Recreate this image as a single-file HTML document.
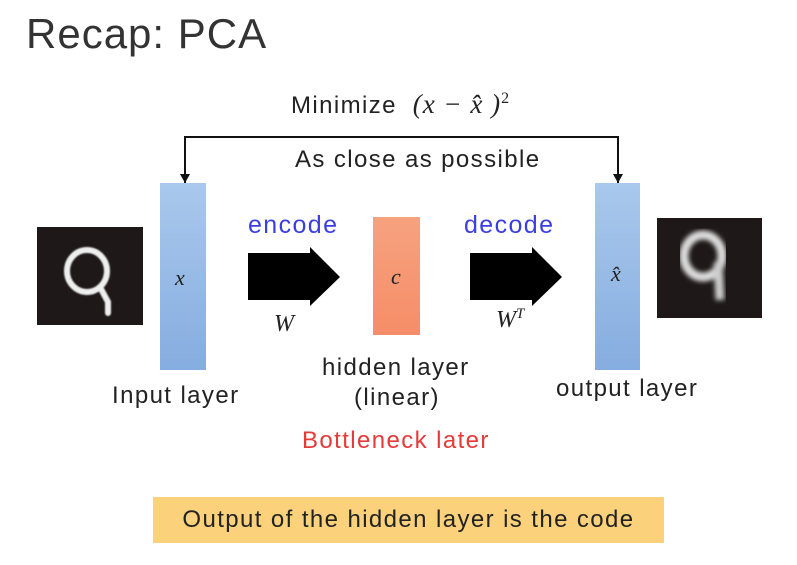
<!DOCTYPE html>
<html><head><meta charset="utf-8"><style>
body{margin:0;width:797px;height:565px;background:#fff;position:relative;overflow:hidden;font-family:"Liberation Sans",sans-serif;color:#222}
.a{position:absolute}
.t{position:absolute;white-space:nowrap;font-size:24px;letter-spacing:1.4px}
.m{font-family:"Liberation Serif",serif;font-style:italic;letter-spacing:0}
</style></head><body>
<div class="t" style="left:26px;top:10px;font-size:42px;letter-spacing:1px;color:#333">Recap: PCA</div>
<div class="t" style="left:291px;top:89px;">Minimize <span class="m" style="font-size:27px;letter-spacing:1px">&nbsp;(x − x̂ )<sup style="font-size:16px;font-style:normal">2</sup></span></div>
<svg class="a" style="left:0;top:0" width="797" height="565">
<defs><filter id="b"><feGaussianBlur stdDeviation="2.5"/></filter><filter id="s"><feGaussianBlur stdDeviation="0.8"/></filter></defs>
<polyline points="185,183 185,137 618,137 618,183" fill="none" stroke="#111" stroke-width="2"/>
<polygon points="180,174 190,174 185,183" fill="#111"/>
<polygon points="613,174 623,174 618,183" fill="#111"/>
<polygon points="248,253 310,253 310,247 340,277 310,306 310,300 248,300" fill="#000"/>
<polygon points="470,253 532,253 532,247 562,277 532,306 532,300 470,300" fill="#000"/>
<rect x="37" y="227" width="106" height="98" fill="#1e1818"/>
<g filter="url(#s)">
<ellipse cx="87" cy="271" rx="20" ry="21" fill="none" stroke="#eee" stroke-width="6"/>
<path d="M100 287 L108 302 L108 313" fill="none" stroke="#eee" stroke-width="6" stroke-linecap="round"/>
</g>
<rect x="657" y="218" width="105" height="100" fill="#1e1818"/>
<g filter="url(#b)">
<ellipse cx="703" cy="256" rx="19" ry="21" fill="none" stroke="#ddd" stroke-width="9"/>
<path d="M718 262 L720 300" fill="none" stroke="#ccc" stroke-width="9"/>
</g>
</svg>
<div class="t" style="left:295px;top:146px;">As close as possible</div>
<div class="a" style="left:160px;top:183px;width:46px;height:187px;background:linear-gradient(#a9c8ec,#86ade0)"></div>
<div class="t m" style="left:175px;top:265px;font-size:22px;">x</div>
<div class="t" style="left:248px;top:211px;font-size:25px;color:#3b3fe0">encode</div>
<div class="t m" style="left:274px;top:311px;font-size:24px;">W</div>
<div class="a" style="left:373px;top:217px;width:47px;height:118px;background:linear-gradient(#f7a27f,#f58d68)"></div>
<div class="t m" style="left:391px;top:264px;font-size:22px;">c</div>
<div class="t" style="left:464px;top:211px;font-size:25px;color:#3b3fe0">decode</div>
<div class="t m" style="left:496px;top:306px;font-size:24px;">W<sup style="font-size:15px">T</sup></div>
<div class="a" style="left:595px;top:183px;width:45px;height:187px;background:linear-gradient(#a9c8ec,#86ade0)"></div>
<div class="t m" style="left:611px;top:261px;font-size:22px;">x̂</div>
<div class="t" style="left:112px;top:382px;">Input layer</div>
<div class="t" style="left:322px;top:354px;">hidden layer</div>
<div class="t" style="left:354px;top:384px;">(linear)</div>
<div class="t" style="left:302px;top:427px;color:#e53a3a">Bottleneck later</div>
<div class="t" style="left:556px;top:375px;">output layer</div>
<div class="a" style="left:153px;top:497px;width:511px;height:46px;background:#fbd27b"></div>
<div class="t" style="left:153px;top:506px;width:511px;text-align:center;">Output of the hidden layer is the code</div>
</body></html>
